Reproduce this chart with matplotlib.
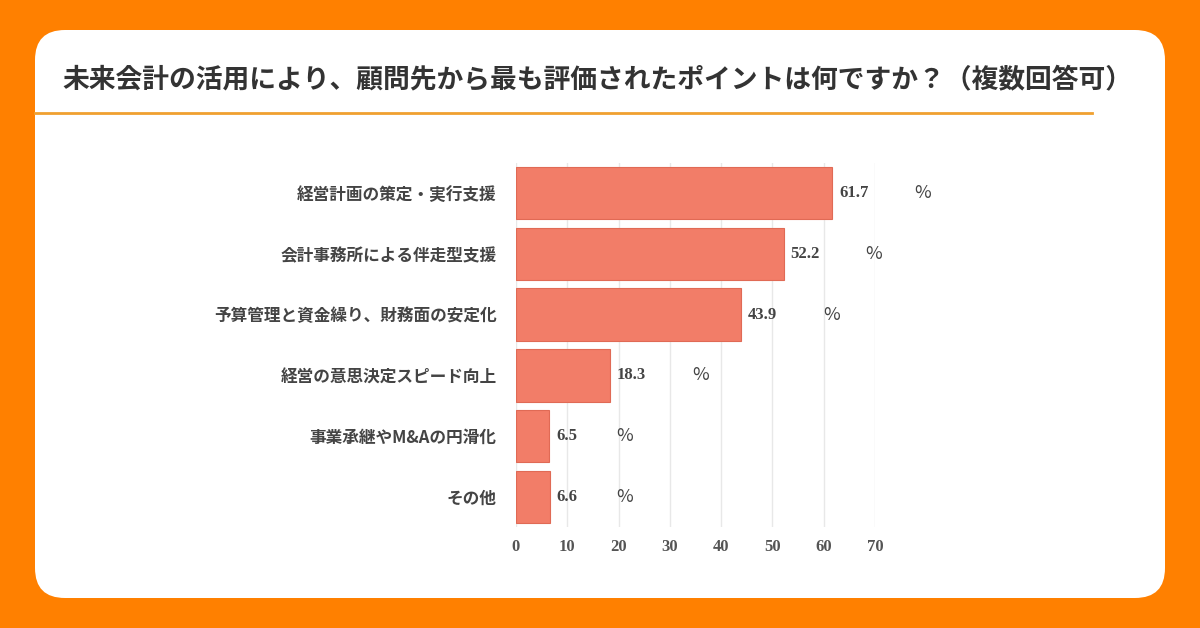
import matplotlib
matplotlib.use("Agg")
import matplotlib.pyplot as plt
from matplotlib.patches import FancyBboxPatch
from matplotlib.lines import Line2D

title = "未来会計の活用により、顧問先から最も評価されたポイントは何ですか？（複数回答可）"
categories = ["経営計画の策定・実行支援", "会計事務所による伴走型支援", "予算管理と資金繰り、財務面の安定化",
              "経営の意思決定スピード向上", "事業承継やM&Aの円滑化", "その他"]
values = [61.7, 52.2, 43.9, 18.3, 6.5, 6.6]
xticks = [0, 10, 20, 30, 40, 50, 60, 70]

W, H = 1200, 628
fig = plt.figure(figsize=(12, 6.28), dpi=100)
fig.patch.set_facecolor("#FF8000")
card = FancyBboxPatch((35/W, 30/H), 1130/W, 568/H, boxstyle="round,pad=0,rounding_size=0.025",
                      transform=fig.transFigure, facecolor="white", edgecolor="none",
                      mutation_aspect=W/H, zorder=-10)
fig.patches.append(card)
fig.text(62/W, 1-80/H, title, fontsize=19.3, fontweight="bold", color="#333333",
         family="Noto Sans CJK JP", va="center", ha="left")
fig.lines.append(Line2D([35/W, 1092/W], [1-113/H, 1-113/H], transform=fig.transFigure,
                        color="#F0A030", lw=2))

ax = fig.add_axes([516/W, 1-527.4/H, 359/W, 364.8/H])
ax.set_zorder(5)
ax.set_facecolor("white")
y = list(range(len(categories)))
ax.barh(y, values, height=0.86, color="#F27D68", edgecolor="#E06A55", lw=0.8, zorder=3)
ax.set_ylim(len(categories)-0.5, -0.5)
ax.set_xlim(0, 70)
ax.set_xticks(xticks)
ax.set_xticklabels([str(t) for t in xticks], family="Liberation Serif", fontweight="bold",
                   fontsize=12, color="#555555")
ax.set_yticks(y)
ax.set_yticklabels(categories, family="Noto Sans CJK JP", fontweight="bold", fontsize=12, color="#444444")
ax.tick_params(length=0, pad=8)
ax.tick_params(axis="y", pad=14)
ax.grid(axis="x", color="#E8E8E8", lw=1, zorder=0)
for s in ax.spines.values():
    s.set_visible(False)
for yi, v in zip(y, values):
    lab = f"{v:.1f}"
    ax.annotate(lab, (v, yi), xytext=(5, 0), textcoords="offset points", va="center",
                family="Liberation Serif", fontweight="bold", fontsize=12, color="#444444")
    ax.annotate("%", (v, yi), xytext=(15 + 11*len(lab), 0), textcoords="offset points", va="center",
                family="Noto Sans CJK JP", fontsize=13, color="#444444")
fig.savefig("out.png", dpi=100, facecolor=fig.get_facecolor())
